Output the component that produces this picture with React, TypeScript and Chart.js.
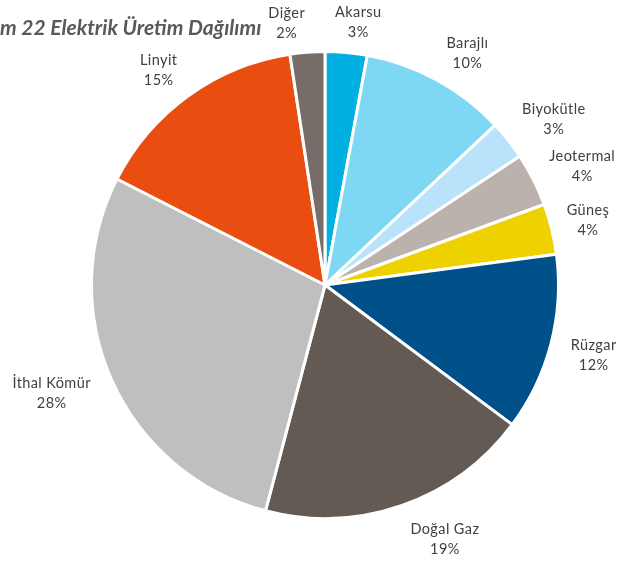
import React, { useEffect, useRef } from "react";
import { Chart, registerables } from "chart.js";

Chart.register(...registerables);

const categories = ["Akarsu", "Barajlı", "Biyokütle", "Jeotermal", "Güneş", "Rüzgar", "Doğal Gaz", "İthal Kömür", "Linyit", "Diğer"];
const shares = [2.9, 10.1, 2.7, 3.7, 3.5, 12.3, 18.9, 28.4, 15.1, 2.4];
const sliceColors = ["#00B0E0", "#7FD8F3", "#B9E3FB", "#BBB2AD", "#EED200", "#00508A", "#645A54", "#BFBFBF", "#E94E10", "#766C68"];
const titleText = "m 22 Elektrik Üretim Dağılımı";
// small angular nudges (degrees) for data-label placement, like Excel's best-fit
const labelNudgeDeg = [2, 3, 2.5, 2, 0, 0, -6, 2.5, -2, -4];

const labelPlugin = {
  id: "pieLabels",
  afterDatasetsDraw(chart: any) {
    const ctx = chart.ctx as CanvasRenderingContext2D;
    const meta = chart.getDatasetMeta(0);
    const data = chart.data.datasets[0].data as number[];
    const total = data.reduce((a, b) => a + b, 0);
    ctx.save();
    ctx.font = "14.5px Lato, 'Open Sans', sans-serif";
    (ctx as any).letterSpacing = "0.4px";
    ctx.fillStyle = "#404040";
    ctx.textAlign = "center";
    ctx.textBaseline = "middle";
    const h = 40;
    meta.data.forEach((arc: any, i: number) => {
      const p = arc.getProps(["x", "y", "startAngle", "endAngle", "outerRadius"], true);
      const mid = (p.startAngle + p.endAngle) / 2 + (labelNudgeDeg[i] * Math.PI) / 180;
      const cx = Math.cos(mid);
      const cy = Math.sin(mid);
      const l1 = chart.data.labels[i] as string;
      const l2 = Math.round((data[i] / total) * 100) + "%";
      const w = Math.max(ctx.measureText(l1).width, ctx.measureText(l2).width);
      const ext = Math.abs(cx) * w / 2 + Math.abs(cy) * h / 2;
      const gap = 8 + 4 * Math.abs(cx) + (cy > 0 ? 5 : 0);
      const r = p.outerRadius + gap + ext;
      const x = p.x + cx * r;
      const y = p.y + cy * r;
      ctx.fillText(l1, x, y - 10);
      ctx.fillText(l2, x, y + 10);
    });
    ctx.font = "italic bold 21px Lato, 'Open Sans', sans-serif";
    (ctx as any).letterSpacing = "0px";
    ctx.fillStyle = "#595959";
    ctx.textAlign = "left";
    ctx.fillText(titleText, 0, 28);
    ctx.restore();
  },
};

export default function App() {
  const ref = useRef<HTMLCanvasElement>(null);
  useEffect(() => {
    if (!ref.current) return;
    const chart = new Chart(ref.current, {
      type: "pie",
      data: {
        labels: categories,
        datasets: [
          {
            data: shares,
            backgroundColor: sliceColors,
            borderColor: "#FFFFFF",
            borderWidth: 3,
          },
        ],
      },
      options: {
        responsive: false,
        animation: false,
        layout: { padding: { top: 50, bottom: 42, left: 50, right: 36 } },
        plugins: {
          legend: { display: false },
          tooltip: { enabled: false },
          title: { display: false },
        },
      },
      plugins: [labelPlugin],
    });
    return () => chart.destroy();
  }, []);
  return (
    <div style={{ position: "absolute", left: 0, top: 0, width: 636, height: 562, background: "#fff" }}>
      <canvas ref={ref} width={636} height={562} style={{ width: 636, height: 562 }} />
    </div>
  );
}
